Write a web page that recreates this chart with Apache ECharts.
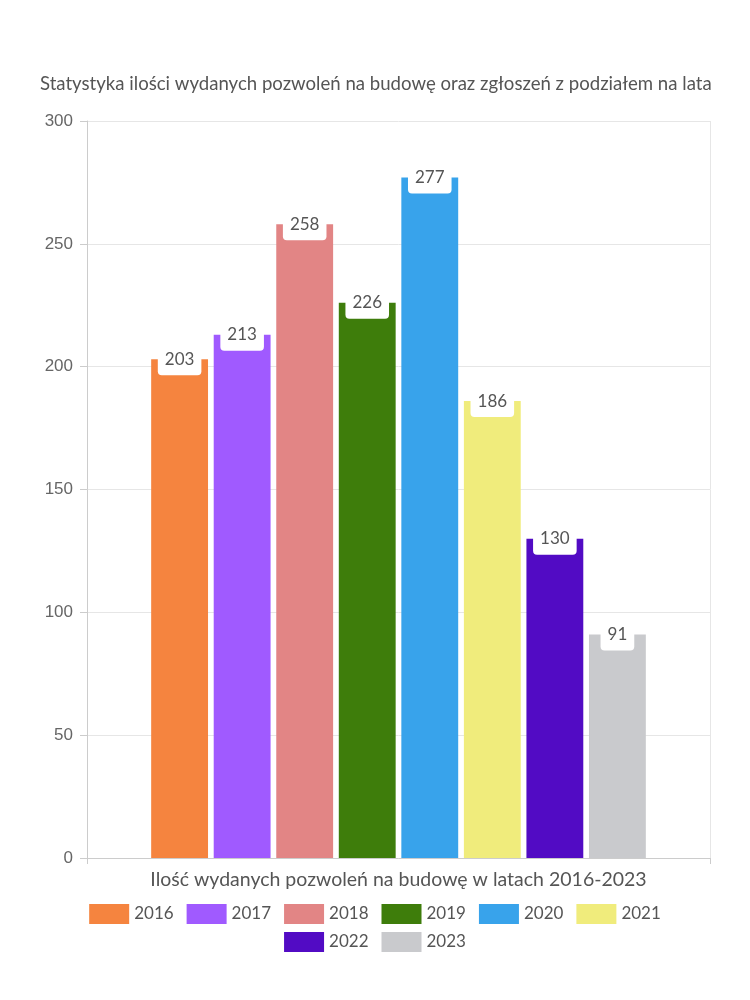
<!DOCTYPE html>
<html><head><meta charset="utf-8">
<script src="https://cdn.jsdelivr.net/npm/echarts@6/dist/echarts.min.js"></script>
<style>html,body{margin:0;padding:0;background:#fff}#c{width:750px;height:1000px}</style>
</head><body><div id="c"></div>
<script>
const categories = ['Ilość wydanych pozwoleń na budowę w latach 2016-2023'];
const years = ['2016','2017','2018','2019','2020','2021','2022','2023'];
const values = [203, 213, 258, 226, 277, 186, 130, 91];
const colors = ['#F5843F','#A05AFF','#E28585','#3E7D0B','#38A3EB','#F0EC7C','#520BC4','#C9CACD'];
const yTicks = {min: 0, max: 300, interval: 50};
const FONT = 'Lato';

const legendBase = {
  left: 'center', itemWidth: 40, itemHeight: 20, itemGap: 13, icon: 'rect',
  textStyle: {fontFamily: FONT, fontSize: 17, color: '#555'}
};

const chart = echarts.init(document.getElementById('c'));
chart.setOption({
  animation: false,
  title: {
    text: 'Statystyka ilości wydanych pozwoleń na budowę oraz zgłoszeń z podziałem na lata',
    left: 35, top: 69,
    textStyle: {fontFamily: FONT, fontSize: 18.6, fontWeight: 'normal', color: '#555'}
  },
  grid: {left: 87, right: 40, top: 121, bottom: 142, containLabel: false},
  legend: [
    Object.assign({}, legendBase, {data: years.slice(0, 6), top: 899}),
    Object.assign({}, legendBase, {data: years.slice(6), top: 927})
  ],
  xAxis: {
    type: 'category', data: categories,
    axisLine: {lineStyle: {color: '#ccc'}},
    axisTick: {show: true, length: 6, lineStyle: {color: '#ccc'}},
    splitLine: {show: true, lineStyle: {color: '#e6e6e6'}},
    axisLabel: {fontFamily: FONT, fontSize: 19.5, color: '#555', margin: 12}
  },
  yAxis: {
    type: 'value', min: yTicks.min, max: yTicks.max, interval: yTicks.interval,
    axisLine: {show: true, lineStyle: {color: '#ccc'}},
    axisTick: {show: true, length: 7, lineStyle: {color: '#ccc'}},
    splitLine: {lineStyle: {color: '#e6e6e6'}},
    axisLabel: {fontFamily: 'Liberation Sans, Arial, sans-serif', fontSize: 17, color: '#666', margin: 14}
  },
  series: years.map((y, i) => ({
    name: y, type: 'bar',
    data: [values[i]],
    itemStyle: {color: colors[i]},
    barGap: '10%', barCategoryGap: '20.6%',
    label: {
      show: true, position: 'insideTop', distance: 0, offset: [0, -12],
      backgroundColor: '#fff', borderRadius: 4,
      padding: [2, 7, 6, 7], lineHeight: 20,
      fontFamily: FONT, fontSize: 17, color: '#555'
    }
  }))
});
</script></body></html>
